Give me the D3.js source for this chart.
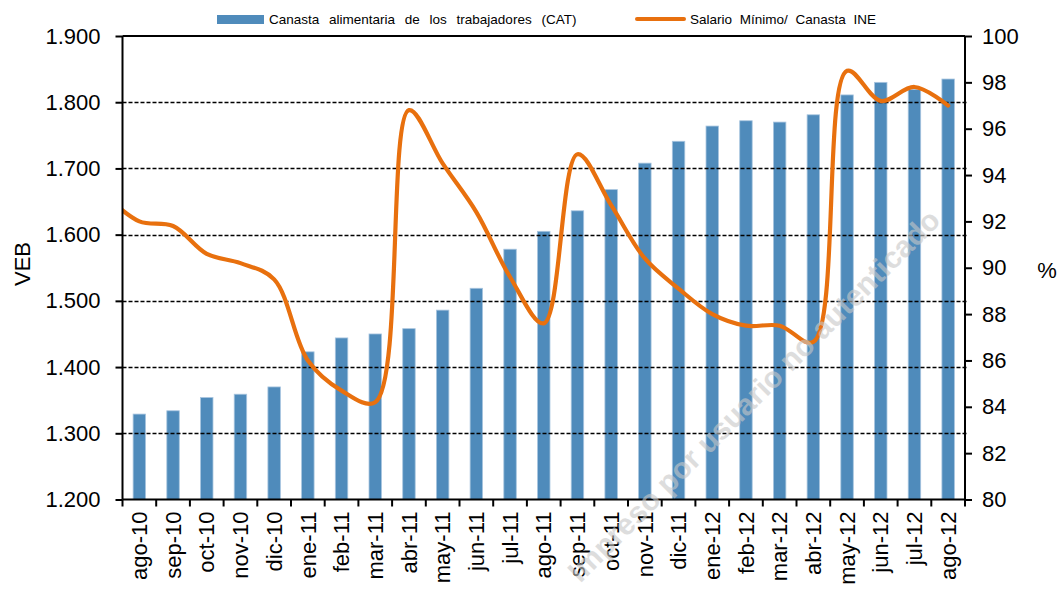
<!DOCTYPE html>
<html>
<head>
<meta charset="utf-8">
<script src="https://cdn.jsdelivr.net/npm/d3@7"></script>
<style>
    body { margin: 0; background: #fff; }
    text { font-family: "Liberation Sans", Arial, sans-serif; fill: #000; }
</style>
</head>
<body>
<script>
// categories (bars)
var months = ["ago-10", "sep-10", "oct-10", "nov-10", "dic-10", "ene-11", "feb-11", "mar-11",
    "abr-11", "may-11", "jun-11", "jul-11", "ago-11", "sep-11", "oct-11", "nov-11", "dic-11",
    "ene-12", "feb-12", "mar-12", "abr-12", "may-12", "jun-12", "jul-12", "ago-12"];
// Canasta alimentaria de los trabajadores (VEB)
var catValues = [1329, 1334, 1354, 1359, 1370, 1423, 1444, 1450, 1458, 1486, 1519, 1578, 1605,
    1636, 1668, 1708, 1741, 1764, 1772, 1770, 1781, 1811, 1830, 1819, 1835];
// Salario minimo / canasta INE (%) - series starts one month earlier (jul-10), clipped by plot
var lineMonths = ["jul-10"].concat(months);
var ratioValues = [93.1, 92.0, 91.8, 90.6, 90.2, 89.5, 86.0, 84.7, 84.2, 96.8, 94.5, 92.4, 89.6,
    87.6, 94.9, 92.7, 90.4, 89.1, 88.0, 87.5, 87.5, 86.8, 98.5, 97.2, 97.8, 97.0];
var leftTicks = [1200, 1300, 1400, 1500, 1600, 1700, 1800, 1900];
var rightTicks = [80, 82, 84, 86, 88, 90, 92, 94, 96, 98, 100];

var width = 1059;
var height = 590;
var margin = { top: 36, bottom: 90.5, left: 122.5, right: 94 };
var w = width - margin.left - margin.right;
var h = height - margin.top - margin.bottom;

var svg = d3.select("body")
    .append("svg")
    .attr("width", width)
    .attr("height", height);

var chart = svg.append("g")
    .attr("transform", "translate(" + margin.left + "," + margin.top + ")");

var x = d3.scaleBand()
    .domain(months)
    .range([0, w]);

var yLeft = d3.scaleLinear()
    .domain([1200, 1900])
    .range([h, 0]);

var yRight = d3.scaleLinear()
    .domain([80, 100])
    .range([h, 0]);

var fmt = function (d) { return d3.format(".3f")(d / 1000); };

svg.append("defs").append("clipPath")
    .attr("id", "plotclip")
    .append("rect")
    .attr("x", 0)
    .attr("y", -5)
    .attr("width", w)
    .attr("height", h + 5);

// bars
chart.selectAll(".bar")
    .data(catValues)
    .enter()
    .append("rect")
    .attr("class", "bar")
    .attr("x", function (d, i) { return x(months[i]) + x.bandwidth() * 0.315; })
    .attr("width", x.bandwidth() * 0.37)
    .attr("y", function (d) { return yLeft(d); })
    .attr("height", function (d) { return h - yLeft(d); })
    .attr("fill", "#4f8bbb")
    .attr("stroke", "#a8c5df")
    .attr("stroke-width", 0.8);

// dashed gridlines
chart.append("g")
    .selectAll("line")
    .data(leftTicks.slice(1, -1))
    .enter()
    .append("line")
    .attr("x1", 0)
    .attr("x2", w + 3)
    .attr("y1", function (d) { return Math.round(yLeft(d)) + 0.5; })
    .attr("y2", function (d) { return Math.round(yLeft(d)) + 0.5; })
    .attr("stroke", "#000")
    .attr("stroke-width", 1.4)
    .attr("stroke-dasharray", "4,2");

// line (x of month i = centre of its band, jul-10 sits one band left of ago-10)
var line = d3.line()
    .x(function (d, i) { return x.bandwidth() * (i - 0.5); })
    .y(function (d) { return yRight(d); })
    .curve(d3.curveCatmullRom.alpha(0.5));

chart.append("path")
    .datum(ratioValues)
    .attr("clip-path", "url(#plotclip)")
    .attr("d", line)
    .attr("fill", "none")
    .attr("stroke", "#e8700e")
    .attr("stroke-width", 4.2)
    .attr("stroke-linejoin", "round")
    .attr("stroke-linecap", "round");

// frame
chart.append("line")
    .attr("x1", 0).attr("x2", w)
    .attr("y1", 0).attr("y2", 0)
    .attr("stroke", "#000").attr("stroke-width", 2);

// axes
var leftAxis = chart.append("g")
    .call(d3.axisLeft(yLeft)
        .tickValues(leftTicks)
        .tickSize(7)
        .tickPadding(15)
        .tickFormat(fmt));

var rightAxis = chart.append("g")
    .attr("transform", "translate(" + w + ",0)")
    .call(d3.axisRight(yRight)
        .tickValues(rightTicks)
        .tickSize(7)
        .tickPadding(10));

var bottomAxis = chart.append("g")
    .attr("transform", "translate(0," + h + ")")
    .call(d3.axisBottom(x).tickSize(0).tickPadding(0));

// tick marks between categories
bottomAxis.selectAll(".edge")
    .data(d3.range(months.length + 1))
    .enter()
    .append("line")
    .attr("x1", function (d) { return d * x.step(); })
    .attr("x2", function (d) { return d * x.step(); })
    .attr("y1", 0)
    .attr("y2", 7)
    .attr("stroke", "#000")
    .attr("stroke-width", 2);

bottomAxis.selectAll(".tick text")
    .attr("transform", "translate(0,12) rotate(-90)")
    .attr("x", 0)
    .attr("y", 0)
    .attr("dy", "0.35em")
    .style("text-anchor", "end");

[leftAxis, rightAxis, bottomAxis].forEach(function (a) {
    a.selectAll(".domain").attr("stroke", "#000").attr("stroke-width", 2);
    a.selectAll(".tick line").attr("stroke", "#000").attr("stroke-width", 2);
    a.selectAll(".tick text")
        .style("font-family", "'Liberation Sans', Arial, sans-serif")
        .style("font-size", "22px")
        .attr("fill", "#000");
});
leftAxis.select(".domain").attr("d", "M0,0V" + h);
rightAxis.select(".domain").attr("d", "M0,0V" + h);
bottomAxis.select(".domain").attr("d", "M0,0H" + w);

// axis titles
svg.append("text")
    .attr("transform", "translate(30,264) rotate(-90)")
    .style("text-anchor", "middle")
    .style("font-size", "22px")
    .text("VEB");

svg.append("text")
    .attr("x", 1047)
    .attr("y", 278)
    .style("text-anchor", "middle")
    .style("font-size", "22px")
    .text("%");

// legend
svg.append("rect")
    .attr("x", 217)
    .attr("y", 15)
    .attr("width", 47)
    .attr("height", 9)
    .attr("fill", "#4f8bbb");

svg.append("text")
    .attr("x", 269)
    .attr("y", 24)
    .style("font-size", "13.5px")
    .style("word-spacing", "6px")
    .text("Canasta alimentaria de los trabajadores (CAT)");

svg.append("line")
    .attr("x1", 637)
    .attr("x2", 684)
    .attr("y1", 19)
    .attr("y2", 19)
    .attr("stroke", "#e8700e")
    .attr("stroke-width", 4)
    .attr("stroke-linecap", "round");

svg.append("text")
    .attr("x", 690)
    .attr("y", 24)
    .style("font-size", "13.5px")
    .style("word-spacing", "4px")
    .text("Salario Mínimo/ Canasta INE");

// watermark
svg.append("text")
    .attr("transform", "translate(942,222) rotate(-45)")
    .style("text-anchor", "end")
    .style("font-size", "30px")
    .style("font-weight", "bold")
    .style("fill", "#c8c8c8")
    .style("opacity", 0.6)
    .text("Impreso por usuario no autenticado");
</script>
</body>
</html>
